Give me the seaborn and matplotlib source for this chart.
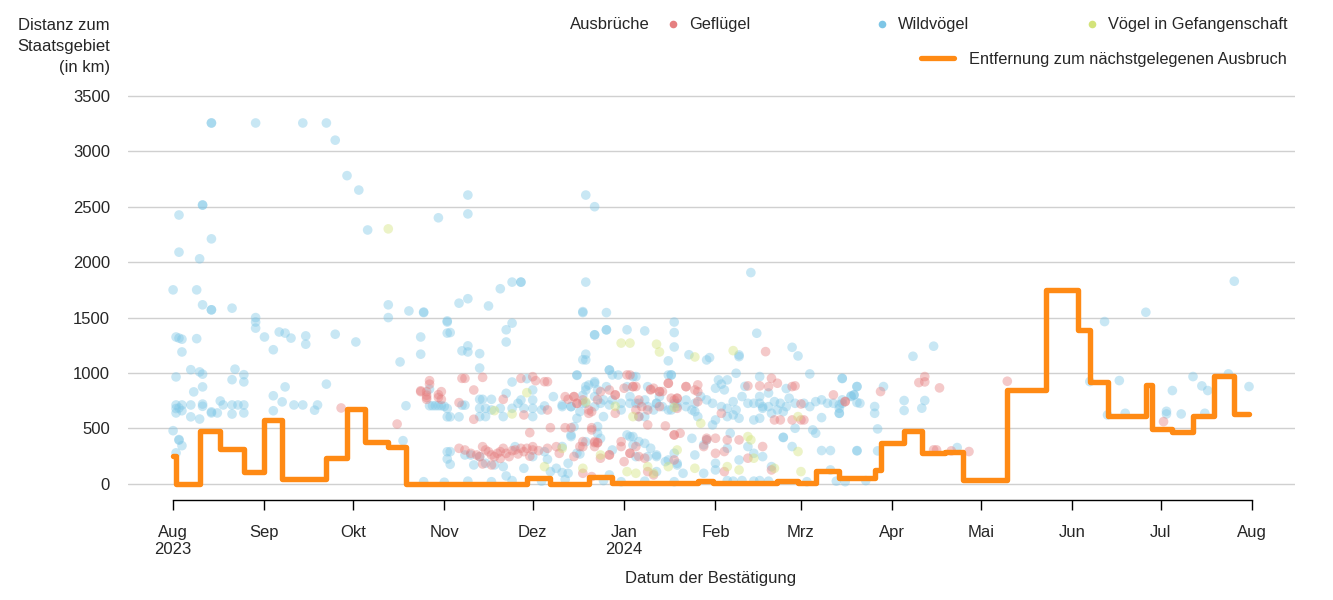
import matplotlib
matplotlib.use("Agg")
import matplotlib.pyplot as plt
import matplotlib.dates as mdates
import seaborn as sns
import pandas as pd
from matplotlib.lines import Line2D

# all x values are days since 1 Aug 2023, y values in km
START = pd.Timestamp("2023-08-01")

wild = [
    (13, 3255), (13, 3255), (28, 3255), (44, 3255), (52, 3255), (55, 3100), (59, 2780), (63, 2650),
    (66, 2290), (90, 2400), (2, 2425), (10, 2515), (10, 2515), (13, 2210), (2, 2090), (9, 2030),
    (0, 1750), (8, 1750), (10, 1615), (13, 1570), (13, 1570), (20, 1585), (28, 1500), (28, 1460),
    (28, 1405), (31, 1325), (36, 1370), (38, 1360), (40, 1315), (45, 1335), (45, 1260), (34, 1210),
    (55, 1350), (62, 1280), (1, 1325), (2, 1315), (3, 1305), (3, 1190), (6, 1030), (9, 1010),
    (10, 990), (8, 1310), (1, 965), (21, 1035), (24, 985), (24, 920), (20, 940), (7, 830),
    (10, 875), (38, 875), (34, 795), (52, 900), (1, 712), (2, 685), (3, 712), (6, 712),
    (10, 720), (16, 748), (17, 712), (20, 712), (22, 712), (24, 712), (15, 640), (20, 630),
    (24, 640), (34, 660), (37, 740), (41, 712), (44, 712), (49, 712), (48, 665), (1, 640),
    (6, 605), (9, 585), (13, 640), (1, 680), (3, 660), (10, 700), (13, 650), (0, 480),
    (2, 400), (2, 395), (3, 345), (1, 280), (78, 390), (73, 1615), (73, 1500), (80, 1560),
    (85, 1550), (84, 1325), (84, 1170), (77, 1100), (79, 705), (87, 855), (87, 705), (90, 705),
    (92, 700), (93, 1460), (93, 1360), (93, 290), (93, 225), (93, 605),
    # Nov - Jan
    (100, 2605), (100, 2435), (140, 2605), (143, 2500), (115, 1820), (118, 1820), (118, 1820), (140, 1820),
    (111, 1760), (107, 1605), (97, 1630), (100, 1670), (85, 1545), (93, 1470), (94, 1365), (115, 1450),
    (113, 1390), (113, 1280), (98, 1200), (100, 1190), (100, 1245), (104, 1175), (104, 1045), (139, 1545),
    (147, 1545), (143, 1345), (147, 1390), (140, 1170), (139, 1120), (154, 1390), (160, 1380), (170, 1460),
    (170, 1365), (170, 1235), (168, 1110), (175, 1165),
    (104, 763), (105, 763), (108, 763), (104, 682), (106, 682), (108, 667), (104, 607), (106, 607),
    (111, 682), (112, 607), (113, 817), (115, 919), (115, 682), (117, 727), (118, 757), (119, 682),
    (120, 949), (122, 847), (122, 757), (122, 682), (122, 607), (125, 667), (126, 703), (129, 787),
    (132, 697), (135, 697), (137, 979), (139, 799), (139, 727), (140, 847), (141, 892), (143, 922),
    (143, 787), (144, 847), (145, 727), (146, 607), (147, 877), (148, 1027), (149, 757), (151, 982),
    (152, 667), (154, 877), (155, 727), (156, 967), (157, 727), (158, 607), (160, 757), (161, 877),
    (163, 667), (164, 727), (165, 787), (168, 667), (168, 982), (169, 982), (170, 727), (171, 697),
    (174, 757), (176, 667), (177, 727), (178, 607), (94, 605), (97, 605), (99, 710), (98, 710),
    (88, 705), (89, 705), (91, 705), (93, 680),
    (137, 983), (140, 878), (143, 908), (143, 1344), (147, 1389), (139, 1554), (140, 1118), (148, 1028),
    (149, 983), (157, 968), (169, 983), (132, 712), (135, 697), (138, 652), (140, 727), (143, 697),
    (146, 758), (148, 712), (152, 727), (155, 788), (158, 727), (161, 697), (164, 727), (166, 697),
    (169, 667), (171, 727), (174, 697), (177, 652), (160, 607), (154, 442), (156, 427), (158, 382),
    (162, 322), (164, 247), (167, 201), (170, 277), (171, 186), (135, 427), (137, 277), (132, 337),
    (134, 186), (144, 517), (134, 96), (148, 81), (164, 111),
    (94, 291), (94, 177), (99, 261), (101, 261), (102, 171), (104, 246), (106, 186), (109, 171),
    (112, 156), (113, 72), (116, 336), (119, 141), (122, 246), (126, 291), (127, 222), (128, 111),
    (130, 141), (132, 102), (135, 441), (136, 516), (137, 592), (138, 270), (140, 381), (144, 456),
    (145, 411), (149, 306), (155, 426), (156, 351), (157, 246), (160, 366), (161, 246), (164, 261),
    (168, 216), (171, 171), (173, 96), (176, 411), (177, 261),
    (85, 20), (92, 15), (100, 25), (108, 20), (115, 30), (125, 25), (133, 40), (146, 30),
    (152, 20), (160, 25), (170, 20),
    # Jan - Mar
    (196, 1906), (198, 1359), (181, 1118), (182, 1139), (192, 1163), (192, 1148), (210, 1232), (212, 1154),
    (216, 992), (227, 953), (232, 878), (185, 938), (188, 938), (184, 863), (187, 848), (191, 998),
    (199, 968), (179, 788), (181, 758), (183, 727), (186, 697), (188, 682), (190, 742), (191, 667),
    (193, 788), (195, 727), (197, 727), (199, 788), (199, 727), (200, 682), (202, 697), (204, 742),
    (206, 727), (208, 697), (209, 773), (211, 727), (214, 727), (216, 697), (218, 742), (220, 758),
    (222, 727), (224, 727), (226, 682), (226, 637), (227, 727), (230, 788), (231, 803), (233, 727),
    (220, 598), (217, 487), (218, 457), (211, 502), (207, 418), (200, 697), (203, 637), (205, 667),
    (207, 652), (199, 592), (197, 577), (192, 592), (190, 622), (188, 607), (184, 577), (183, 532),
    (186, 900), (194, 880), (202, 820), (208, 860),
    (180, 352), (181, 397), (184, 186), (188, 322), (189, 457), (192, 216), (195, 337), (197, 276),
    (200, 246), (203, 156), (207, 421), (210, 337), (220, 301), (223, 301), (232, 301), (223, 126),
    (180, 96), (184, 126), (188, 30), (190, 25), (193, 30), (197, 25), (199, 30), (202, 25),
    (215, 20), (225, 25),
    # Mar - Aug
    (360, 1828), (330, 1548), (316, 1464), (258, 1242), (251, 1151), (227, 950), (232, 878), (241, 878),
    (230, 794), (231, 803), (232, 734), (227, 758), (226, 713), (226, 637), (248, 752), (248, 662),
    (254, 683), (255, 752), (238, 698), (238, 637), (239, 496), (232, 298), (239, 298), (266, 328),
    (321, 932), (346, 968), (349, 884), (351, 842), (339, 842), (365, 878), (358, 992), (337, 631),
    (337, 655), (342, 631), (350, 637), (323, 637), (311, 923), (317, 622), (228, 20), (235, 30),
]

poultry = [
    (57, 685), (76, 540), (84, 840), (86, 800), (86, 780), (87, 900), (90, 805), (90, 780),
    (87, 931), (86, 832), (86, 763), (84, 832), (91, 832), (91, 763), (97, 733), (98, 952),
    (99, 952), (102, 847), (105, 961), (102, 583), (112, 763), (118, 952), (119, 622), (122, 967),
    (123, 931), (126, 922), (127, 922), (127, 667), (128, 507), (133, 507), (135, 507), (134, 763),
    (136, 787), (137, 727), (141, 667), (142, 507), (143, 372), (144, 372), (145, 832), (148, 847),
    (150, 802), (150, 637), (152, 381), (155, 982), (156, 877), (158, 757), (159, 697), (161, 532),
    (162, 853), (165, 832), (167, 523), (168, 907), (170, 757), (171, 772), (170, 441), (174, 877),
    (177, 847), (178, 832),
    (97, 321), (99, 306), (101, 276), (103, 261), (105, 336), (106, 306), (108, 261), (109, 246),
    (110, 276), (111, 291), (112, 321), (113, 276), (114, 246), (116, 306), (118, 321), (119, 291),
    (120, 321), (122, 306), (122, 336), (127, 321), (130, 336), (131, 276), (105, 180), (108, 171),
    (104, 246), (107, 290), (111, 230), (115, 300), (117, 270), (121, 250), (124, 300),
    (121, 462), (139, 336), (139, 96), (142, 66), (148, 261), (153, 201), (155, 276), (161, 111),
    (163, 81),
    (201, 1193), (195, 884), (199, 884), (202, 878), (203, 953), (205, 908), (210, 878), (211, 884),
    (224, 803), (228, 742), (213, 721), (204, 577), (206, 577), (210, 577), (213, 577), (214, 577),
    (181, 397), (184, 412), (188, 397), (192, 397), (200, 337), (180, 337), (184, 276), (187, 292),
    (195, 232), (203, 126), (187, 111),
    (133, 787), (136, 787), (137, 727), (141, 637), (142, 487), (143, 382), (144, 372), (150, 803),
    (154, 983), (156, 878), (157, 667), (162, 848), (165, 833), (168, 908), (171, 773), (174, 878),
    (178, 893), (178, 742), (186, 637), (181, 412), (148, 262), (155, 277), (158, 247), (170, 442),
    (138, 337), (136, 247),
    (139, 758), (142, 652), (144, 758), (153, 863), (157, 878), (161, 667), (163, 863), (166, 833),
    (165, 697), (169, 773), (171, 682), (158, 607), (152, 337), (139, 382), (143, 337), (145, 232),
    (157, 337), (160, 232), (170, 216), (172, 457),
    (228, 743), (240, 833), (255, 968), (255, 920), (253, 914), (260, 866), (283, 926), (259, 307),
    (258, 307), (264, 298), (270, 292), (336, 562),
]

captive = [
    (73, 2300), (109, 661), (115, 631), (120, 823), (126, 156), (132, 321), (139, 141), (140, 739),
    (145, 261), (156, 607), (161, 156), (163, 96), (168, 156), (171, 306), (177, 141), (154, 111),
    (157, 96), (152, 1270), (155, 1270), (164, 1260), (165, 1190), (177, 1145), (190, 1202), (179, 547),
    (195, 427), (196, 397), (197, 232), (212, 292), (212, 607), (213, 111), (188, 156), (192, 126),
    (204, 141), (150, 700), (170, 690),
]

# nearest outbreak distance, step changes (day, km)
step_days = [0, 1, 9, 16, 24, 31, 37, 52, 59, 65, 73, 79, 120, 128, 141, 149, 178, 183, 205, 212,
             218, 226, 238, 240, 248, 254, 262, 268, 283, 296, 307, 311, 317, 330, 332, 339, 346,
             353, 360, 365]
step_km = [250, 0, 480, 315, 105, 575, 40, 230, 680, 380, 335, 0, 50, 0, 65, 5, 25, 5, 30, 5,
           115, 50, 125, 365, 475, 280, 290, 35, 845, 1745, 1385, 920, 610, 890, 495, 470, 610,
           970, 630, 630]

month_labels = ["Aug\n2023", "Sep", "Okt", "Nov", "Dez", "Jan\n2024", "Feb", "Mrz", "Apr", "Mai",
                "Jun", "Jul", "Aug"]

colors = {"Geflügel": "#e57f80", "Wildvögel": "#7ec6e6", "Vögel in Gefangenschaft": "#d3e37a"}
line_color = "#ff8a14"


def to_frame(pairs, name):
    d = pd.DataFrame(pairs, columns=["tag", "km"])
    d["Datum"] = START + pd.to_timedelta(d["tag"], unit="D")
    d["Art"] = name
    return d


df = pd.concat([to_frame(wild, "Wildvögel"), to_frame(poultry, "Geflügel"),
                to_frame(captive, "Vögel in Gefangenschaft")], ignore_index=True)
step = pd.DataFrame({"Datum": START + pd.to_timedelta(step_days, unit="D"), "km": step_km})

sns.set_style("white")
plt.rcParams["font.family"] = ["Liberation Sans", "DejaVu Sans"]
plt.rcParams["font.size"] = 12

W, H = 1333, 600
fig = plt.figure(figsize=(W / 100, H / 100), dpi=100)
ax = fig.add_axes([128 / W, 1 - 500 / H, 1167 / W, (500 - 94.7) / H])


def px(x, y):
    return x / W, 1 - y / H


sns.scatterplot(data=df, x="Datum", y="km", hue="Art", palette=colors, s=48, alpha=0.42,
                linewidth=0, legend=False, ax=ax, zorder=2)
sns.lineplot(data=step, x="Datum", y="km", drawstyle="steps-post", color=line_color, lw=3.9,
             estimator=None, ax=ax, zorder=3, solid_capstyle="round")

ax.set_xlim(START - pd.Timedelta(days=15.3), START + pd.Timedelta(days=380.6))
ax.set_ylim(-145, 3510)
ax.set_yticks(range(0, 3501, 500))
ax.grid(axis="y", color="#d0d0d0", lw=1)
ax.grid(axis="x", visible=False)
ax.set_axisbelow(True)

ticks = pd.date_range("2023-08-01", "2024-08-01", freq="MS")
ax.set_xticks(ticks)
ax.set_xticklabels(month_labels)
ax.tick_params(axis="x", bottom=True, direction="out", length=7.5, width=1, color="black",
               pad=10.5, labelsize=12)
ax.tick_params(axis="y", left=False, length=0, pad=13, labelsize=12)
for s in ["top", "right", "left"]:
    ax.spines[s].set_visible(False)
ax.spines["bottom"].set_color("black")
ax.spines["bottom"].set_linewidth(1)
ax.spines["bottom"].set_bounds(mdates.date2num(ticks[0]), mdates.date2num(ticks[-1]))
ax.set_xlabel("")
ax.set_ylabel("")

for yb, line in [(30, "Distanz zum"), (51, "Staatsgebiet"), (72, "(in km)")]:
    fig.text(*px(110, yb), line, ha="right", va="baseline", fontsize=12)
fig.text(*px(711, 578), "Datum der Bestätigung", ha="center", va="center", fontsize=12)

# legend drawn by hand
fig.text(*px(570, 29), "Ausbrüche", ha="left", va="baseline", fontsize=12)
for x, label in [(673, "Geflügel"), (882, "Wildvögel"), (1092, "Vögel in Gefangenschaft")]:
    fig.add_artist(Line2D([x / W], [1 - 24 / H], marker="o", ms=5.5, mew=0, color=colors[label],
                          transform=fig.transFigure))
    fig.text(*px(x + 16, 29), label, ha="left", va="baseline", fontsize=11.8)
fig.add_artist(Line2D([921 / W, 954 / W], [1 - 58 / H] * 2, color=line_color, lw=3.8,
                      solid_capstyle="round", transform=fig.transFigure))
fig.text(*px(969, 64), "Entfernung zum nächstgelegenen Ausbruch", ha="left", va="baseline",
         fontsize=11.8)

fig.savefig("out.png", dpi=100)
